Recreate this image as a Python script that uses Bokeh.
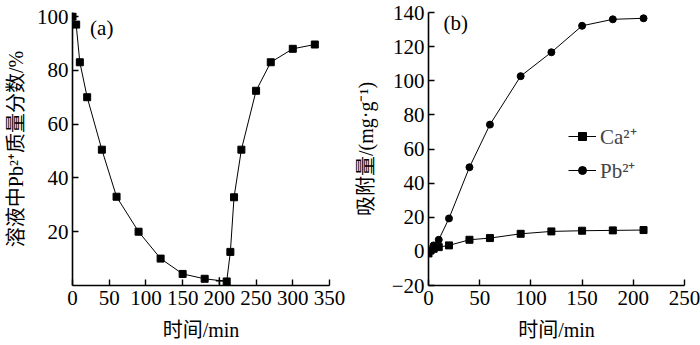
from bokeh.plotting import figure
from bokeh.layouts import row
from bokeh.models import Range1d, FixedTicker, Label, Legend
from bokeh.embed import file_html
from bokeh.resources import INLINE

# ---- data (a) ----
a_time = [0, 5, 10, 20, 40, 60, 90, 120, 150, 180, 210, 215, 220, 230, 250, 270, 300, 330]
a_pb_frac = [100, 97, 83, 70, 50.5, 33, 20, 10, 4.3, 2.5, 1.5, 12.5, 32.8, 50.5, 72.4, 83, 88, 89.6]
a_extra_time = [200]
a_extra_val = [1.8]
a_xticks = [0, 50, 100, 150, 200, 250, 300, 350]
a_yticks = [20, 40, 60, 80, 100]

# ---- data (b) ----
b_time = [0, 2, 5, 10, 20, 40, 60, 90, 120, 150, 180, 210]
b_ca = [-1.2, 0.5, 1.5, 2.5, 3.5, 6.8, 7.8, 10.3, 11.7, 12.1, 12.3, 12.5]
b_pb_time = [0, 5, 10, 20, 40, 60, 90, 120, 150, 180, 210]
b_pb = [-1.0, 3.5, 6.8, 19.3, 49.3, 74.3, 102.7, 116.7, 132.2, 136.0, 136.6]
b_xticks = [0, 50, 100, 150, 200, 250]
b_yticks = [-20, 0, 20, 40, 60, 80, 100, 120, 140]

SERIF = "Liberation Serif, Noto Sans CJK SC"
CJK = "Liberation Serif, Noto Sans CJK SC"


def style(p, xticks, yticks):
    p.outline_line_color = None
    p.xgrid.visible = False
    p.ygrid.visible = False
    p.background_fill_color = None
    p.border_fill_color = None
    for ax in (p.xaxis[0], p.yaxis[0]):
        ax.axis_line_color = "black"
        ax.axis_line_width = 1.6
        ax.major_tick_line_color = "black"
        ax.major_tick_line_width = 1.4
        ax.major_tick_in = 6
        ax.major_tick_out = 0
        ax.minor_tick_line_color = None
        ax.major_label_text_font = SERIF
        ax.major_label_text_font_size = "21px"
        ax.major_label_text_color = "black"
        ax.axis_label_text_font = CJK
        ax.axis_label_text_font_size = "20px"
        ax.axis_label_text_font_style = "normal"
        ax.axis_label_text_color = "black"
    p.xaxis[0].ticker = FixedTicker(ticks=xticks)
    p.yaxis[0].ticker = FixedTicker(ticks=yticks)
    p.xaxis[0].major_label_standoff = 5
    p.yaxis[0].major_label_standoff = 4
    p.xaxis[0].axis_label_standoff = 11


# ---- left figure ----
pa = figure(width=350, height=345, output_backend="svg", toolbar_location=None,
            x_range=Range1d(0, 350), y_range=Range1d(0, 101.5),
            min_border_left=72, min_border_right=21, min_border_top=7, min_border_bottom=60)
style(pa, a_xticks, a_yticks)
pa.xaxis[0].axis_label = "时间/min"
pa.yaxis[0].axis_label = "溶液中Pb²⁺质量分数/%"
pa.yaxis[0].axis_label_standoff = 7
pa.line(a_time, a_pb_frac, line_color="black", line_width=1)
pa.scatter(a_time, a_pb_frac, marker="square", size=7, color="black")
pa.scatter(a_extra_time, a_extra_val, marker="cross", size=7, line_color="black", line_width=1.5)
pa.add_layout(Label(x=24, y=95.6, text="(a)", text_font=SERIF, text_font_size="21px",
                    text_baseline="middle", text_color="black"))

# ---- right figure ----
pb = figure(width=350, height=345, output_backend="svg", toolbar_location=None,
            x_range=Range1d(0, 250), y_range=Range1d(-20, 140),
            min_border_left=78, min_border_right=16, min_border_top=12, min_border_bottom=60)
style(pb, b_xticks, b_yticks)
pb.xaxis[0].axis_label = "时间/min"
pb.yaxis[0].axis_label = "吸附量/(mg·g⁻¹)"
pb.yaxis[0].axis_label_standoff = 12
l1 = pb.line(b_time, b_ca, line_color="black", line_width=1)
s1 = pb.scatter(b_time, b_ca, marker="square", size=7, color="black")
l2 = pb.line(b_pb_time, b_pb, line_color="black", line_width=1)
s2 = pb.scatter(b_pb_time, b_pb, marker="circle", size=7, color="black")
pb.add_layout(Label(x=14.6, y=134, text="(b)", text_font=SERIF, text_font_size="21px",
                    text_baseline="middle", text_color="black"))
legend = Legend(items=[("Ca²⁺", [l1, s1]), ("Pb²⁺", [l2, s2])],
                location=(140, 101), orientation="vertical",
                border_line_color=None, background_fill_alpha=0,
                label_text_font=SERIF, label_text_font_size="21px",
                glyph_width=28, glyph_height=20, label_height=20,
                label_standoff=4, spacing=6, padding=0, margin=0)
pb.add_layout(legend)

layout = row(pa, pb)
open("out.html", "w").write(file_html(layout, INLINE))
